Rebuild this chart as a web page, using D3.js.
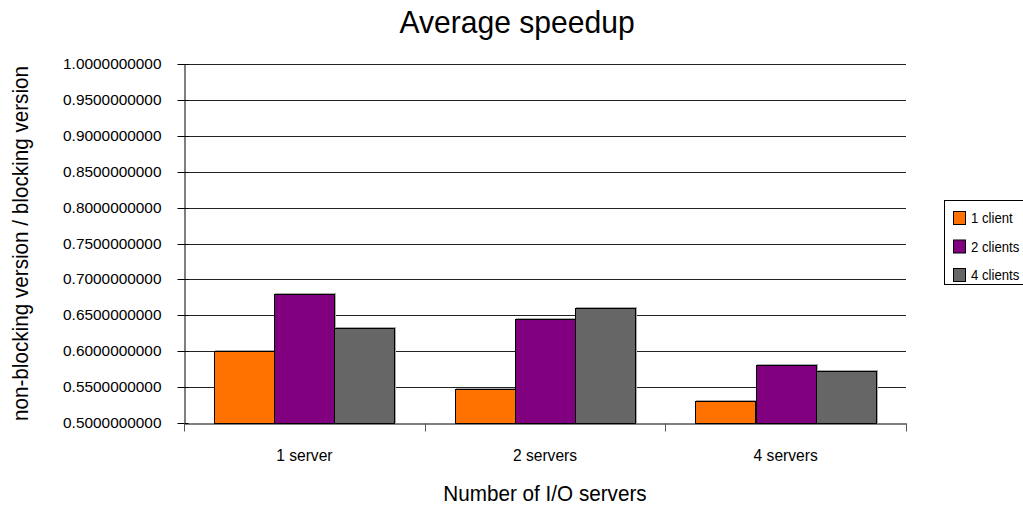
<!DOCTYPE html>
<html>
<head>
<meta charset="utf-8">
<script src="https://cdn.jsdelivr.net/npm/d3@7"></script>
<style>
  html, body { margin: 0; padding: 0; background: #fff; }
  svg { display: block; font-family: "Liberation Sans", Arial, sans-serif; }
</style>
</head>
<body>
<svg id="chart" width="1023" height="508"></svg>
<script>
// Server configurations on the x axis
const categories = ["1 server", "2 servers", "4 servers"];
// Client counts, one bar per series
const seriesNames = ["1 client", "2 clients", "4 clients"];
const seriesColors = ["#ff7200", "#800080", "#666666"];
// Speedup ratio (non-blocking / blocking) per series, one value per category
const oneClient = [0.600, 0.548, 0.531];
const twoClients = [0.680, 0.645, 0.581];
const fourClients = [0.633, 0.660, 0.572];
const seriesValues = [oneClient, twoClients, fourClients];
// Y axis tick values
const yTicks = [0.50, 0.55, 0.60, 0.65, 0.70, 0.75, 0.80, 0.85, 0.90, 0.95, 1.00];

const svg = d3.select("#chart");
const plotLeft = 184, plotRight = 906, plotTop = 64, plotBottom = 423;

const x = d3.scaleBand().domain(categories).range([plotLeft, plotRight]).paddingInner(0).paddingOuter(0);
const xs = d3.scaleBand().domain(seriesNames).range([0, x.bandwidth()]).paddingInner(0).paddingOuter(0.5);
const y = d3.scaleLinear().domain([0.5, 1.0]).range([plotBottom, plotTop]);

// Horizontal gridlines
svg.append("g").selectAll("line").data(yTicks.slice(1)).join("line")
  .attr("x1", plotLeft).attr("x2", plotRight)
  .attr("y1", d => Math.round(y(d)) + 0.5).attr("y2", d => Math.round(y(d)) + 0.5)
  .attr("stroke", "#222").attr("stroke-width", 1);

// Bars, grouped by category
const rows = [];
categories.forEach((c, i) => seriesNames.forEach((s, j) => rows.push({c, s, j, v: seriesValues[j][i]})));
const bars = svg.append("g");
// faint drop shadow edge
bars.selectAll("rect.sh").data(rows).join("rect").attr("class", "sh")
  .attr("x", d => Math.round(x(d.c) + xs(d.s)) + 1.5)
  .attr("y", d => Math.round(y(d.v)) - 0.5)
  .attr("width", Math.round(xs.bandwidth()))
  .attr("height", d => Math.round(plotBottom - y(d.v)))
  .attr("fill", "none").attr("stroke", "#aaa").attr("stroke-width", 1);
bars.selectAll("rect.bar").data(rows).join("rect").attr("class", "bar")
  .attr("x", d => Math.round(x(d.c) + xs(d.s)) + 0.5)
  .attr("y", d => Math.round(y(d.v)) + 0.5)
  .attr("width", Math.round(xs.bandwidth()))
  .attr("height", d => Math.round(plotBottom - y(d.v)))
  .attr("fill", d => seriesColors[d.j]).attr("stroke", "#000").attr("stroke-width", 1);

// Y axis
const yAxis = svg.append("g").attr("transform", `translate(${plotLeft + 0.5},0)`)
  .call(d3.axisLeft(y).tickValues(yTicks).tickFormat(d3.format(".10f")).tickSizeOuter(0).tickSizeInner(7).tickPadding(16));
yAxis.select(".domain").attr("stroke", "#000");
yAxis.selectAll(".tick line").attr("x2", -7).attr("x1", 4).attr("stroke", "#000");
yAxis.selectAll(".tick text").attr("font-size", 15.4).attr("fill", "#000")
  .attr("font-family", "Liberation Sans, Arial, sans-serif");
yAxis.selectAll(".tick").attr("transform", d => `translate(0,${Math.round(y(d)) + 0.5})`);

// X axis
const xAxis = svg.append("g").attr("transform", `translate(0,${plotBottom + 0.5})`)
  .call(d3.axisBottom(x).tickSize(0).tickPadding(26).tickSizeOuter(0));
xAxis.select(".domain").attr("stroke", "#000");
xAxis.selectAll(".tick text").attr("font-size", 15.6).attr("fill", "#000")
  .attr("font-family", "Liberation Sans, Arial, sans-serif");
const bounds = [plotLeft, ...categories.map(c => x(c) + x.bandwidth())];
xAxis.append("g").selectAll("line").data(bounds).join("line")
  .attr("x1", d => Math.round(d) + 0.5).attr("x2", d => Math.round(d) + 0.5)
  .attr("y1", 0).attr("y2", 8).attr("stroke", "#555");

// Titles (slightly condensed sans)
svg.append("text").attr("transform", "translate(517,33) scale(0.94,1)").attr("text-anchor", "middle")
  .attr("font-size", 32).text("Average speedup");
svg.append("text").attr("transform", `translate(${(plotLeft + plotRight) / 2},501) scale(0.94,1)`).attr("text-anchor", "middle")
  .attr("font-size", 22).text("Number of I/O servers");
svg.append("text").attr("transform", `translate(28,${(plotTop + plotBottom) / 2}) rotate(-90) scale(0.94,1)`).attr("text-anchor", "middle")
  .attr("font-size", 22).text("non-blocking version / blocking version");

// Legend
const lg = svg.append("g");
lg.append("rect").attr("x", 944.5).attr("y", 200.5).attr("width", 90).attr("height", 84)
  .attr("fill", "#fff").attr("stroke", "#000");
const item = lg.selectAll("g.item").data(seriesNames).join("g").attr("class", "item")
  .attr("transform", (d, i) => `translate(953,${211 + i * 28.5})`);
item.append("rect").attr("x", 0.5).attr("y", 0.5).attr("width", 12).attr("height", 13)
  .attr("fill", (d, i) => seriesColors[i]).attr("stroke", "#000");
item.append("text").attr("transform", "translate(18,12) scale(0.94,1)").attr("font-size", 14).text(d => d);
</script>
</body>
</html>
